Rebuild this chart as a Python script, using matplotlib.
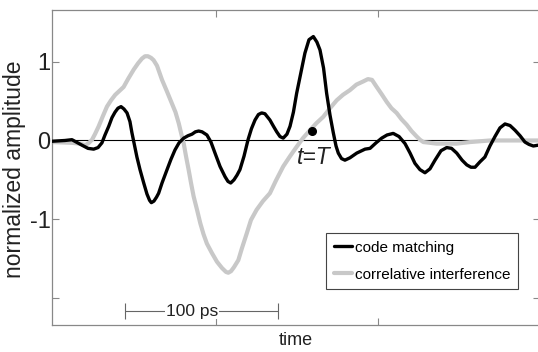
import matplotlib
matplotlib.use('Agg')
import matplotlib.pyplot as plt

plt.rcParams['font.family'] = ['Liberation Sans', 'DejaVu Sans']

# time axis (ps) and normalized amplitudes
t_code = [-1.2, 6.8, 11.1, 17.3, 21.0, 24.5, 27.2, 29.6, 31.5, 33.8, 35.8, 37.7, 39.5, 41.4,
          43.2, 45.1, 46.9, 48.1, 49.7, 51.2, 53.1, 55.4, 57.4, 59.0, 60.1, 61.7, 63.3, 64.6,
          66.7, 69.8, 72.2, 74.7, 77.2, 80.1, 82.7, 85.2, 87.3, 89.3, 91.4, 94.4, 96.9, 99.4,
          102.5, 105.6, 107.4, 109.1, 111.1, 113.0, 114.8, 117.3, 119.8, 121.9, 124.1, 126.2,
          128.2, 130.2, 133.3, 135.5, 137.5, 139.5, 141.5, 143.8, 145.7, 147.8, 149.8, 152.5,
          154.9, 157.4, 160.1, 162.3, 164.2, 166.4, 168.3, 170.4, 172.4, 174.1, 175.5, 177.5,
          179.6, 182.7, 186.9, 192.0, 195.1, 198.8, 202.3, 205.6, 209.4, 213.0, 216.7, 219.8,
          222.8, 225.9, 229.0, 232.1, 235.2, 238.9, 242.4, 245.4, 248.6, 251.9, 254.8, 257.4,
          259.9, 263.0, 266.0, 269.1, 272.2, 275.3, 278.4, 281.5, 284.6, 287.7, 290.7, 293.2,
          295.9, 298.8]
code_matching = [-0.01, 0.00, 0.01, -0.06, -0.10, -0.11, -0.09, -0.03, 0.07, 0.18, 0.29, 0.36,
                 0.41, 0.43, 0.40, 0.35, 0.24, 0.10, -0.06, -0.21, -0.37, -0.54, -0.68, -0.76,
                 -0.79, -0.77, -0.72, -0.67, -0.54, -0.37, -0.24, -0.12, -0.03, 0.03, 0.06, 0.08,
                 0.11, 0.12, 0.11, 0.07, -0.02, -0.16, -0.33, -0.46, -0.52, -0.54, -0.50, -0.44,
                 -0.37, -0.20, 0.01, 0.15, 0.26, 0.33, 0.35, 0.34, 0.26, 0.18, 0.11, 0.05, 0.03,
                 0.08, 0.18, 0.36, 0.60, 0.87, 1.11, 1.28, 1.32, 1.25, 1.15, 0.92, 0.60, 0.32,
                 0.10, -0.07, -0.16, -0.23, -0.25, -0.22, -0.16, -0.11, -0.10, -0.03, 0.03, 0.07,
                 0.09, 0.05, -0.04, -0.16, -0.29, -0.37, -0.41, -0.36, -0.25, -0.13, -0.09, -0.10,
                 -0.16, -0.25, -0.31, -0.34, -0.34, -0.27, -0.21, -0.07, 0.05, 0.16, 0.21, 0.19,
                 0.13, 0.06, -0.02, -0.05, -0.07, -0.06]

t_corr = [-1.2, 11.1, 16.0, 19.3, 21.6, 23.5, 25.3, 27.6, 30.2, 32.7, 35.2, 37.8, 40.4, 43.0,
          45.7, 49.2, 51.9, 54.3, 56.2, 58.0, 59.9, 61.5, 63.6, 66.7, 69.8, 72.8, 75.0, 77.0,
          78.4, 80.1, 81.5, 83.1, 84.6, 86.2, 88.3, 90.3, 92.3, 94.4, 97.5, 100.6, 103.7, 106.2,
          107.6, 109.3, 111.1, 113.8, 116.0, 119.0, 121.6, 125.1, 129.0, 133.3, 137.0, 141.5,
          145.7, 149.8, 153.7, 158.0, 162.0, 166.2, 170.4, 174.5, 178.4, 182.7, 186.7, 190.9,
          193.8, 196.3, 199.2, 202.2, 205.4, 208.3, 211.5, 214.5, 217.7, 220.7, 223.9, 225.9,
          228.0, 232.1, 236.2, 242.0, 248.6, 256.8, 269.1, 287.7, 298.8]
correlative = [-0.02, -0.03, -0.04, -0.06, -0.03, 0.01, 0.08, 0.18, 0.31, 0.43, 0.51, 0.58,
               0.63, 0.68, 0.78, 0.90, 0.98, 1.04, 1.07, 1.07, 1.05, 1.02, 0.95, 0.77, 0.62,
               0.47, 0.36, 0.22, 0.10, -0.04, -0.20, -0.37, -0.54, -0.71, -0.88, -1.05, -1.19,
               -1.31, -1.43, -1.54, -1.62, -1.67, -1.68, -1.66, -1.61, -1.52, -1.37, -1.18,
               -1.01, -0.88, -0.77, -0.67, -0.51, -0.33, -0.20, -0.08, 0.03, 0.13, 0.22, 0.30,
               0.41, 0.51, 0.58, 0.64, 0.71, 0.75, 0.78, 0.77, 0.68, 0.59, 0.49, 0.41, 0.35,
               0.27, 0.20, 0.12, 0.05, 0.01, -0.02, -0.03, -0.04, -0.04, -0.04, -0.02, 0.00,
               0.00, 0.00]

t_mark, a_mark = 159.3, 0.12
bar_start, bar_end, bar_level = 43.8, 138.3, -2.17

fig = plt.figure(figsize=(5.38, 3.52), dpi=100)
ax = fig.add_axes([0.0967, 0.0767, 0.907, 0.895])

ax.axhline(0, color='black', lw=0.8, zorder=1)
ax.plot(t_corr, correlative, color='#c8c8c8', lw=3.0, solid_joinstyle='round',
        solid_capstyle='round', label='correlative interference', zorder=2)
ax.plot(t_code, code_matching, color='black', lw=2.4, solid_joinstyle='round',
        solid_capstyle='round', label='code matching', zorder=3)
ax.plot(t_mark, a_mark, 'o', color='black', ms=5.5, zorder=4)
ax.text(t_mark + 1, a_mark - 0.34, 't=T', style='italic', fontsize=16.5,
        ha='center', va='center', color='#222222')

# 100 ps scale bar
ax.errorbar([(bar_start + bar_end) / 2], [bar_level], xerr=[(bar_end - bar_start) / 2],
            fmt='none', ecolor='#666666', elinewidth=0.8, capsize=6, capthick=0.8)
ax.text(85.2, bar_level, '100 ps', fontsize=12.5, ha='center', va='center', color='#222222',
        bbox=dict(facecolor='white', edgecolor='none', pad=0.5))

ax.set_xlim(-1.2, 300)
ax.set_ylim(-2.344, 1.658)
ax.set_xticks([100, 200])
ax.set_xticklabels([])
ax.set_yticks([1, 0, -1, -2])
ax.set_yticklabels(['1', '0', '-1', ''])
ax.tick_params(direction='in', length=5, width=0.8, color='#888888', top=True, right=True,
               labelsize=17, pad=1, labelcolor='#222222')
for s in ax.spines.values():
    s.set_color('#888888')
    s.set_linewidth(0.9)

ax.set_xlabel('time', fontsize=13, color='#222222', labelpad=4)
fig.text(15 / 538, 1 - 169 / 352, 'normalized amplitude', rotation=90, fontsize=16.5,
         ha='center', va='center', color='#222222')

h, l = ax.get_legend_handles_labels()
leg = ax.legend(h[::-1], l[::-1], loc='upper left', bbox_to_anchor=(326 / 538, 1 - 233 / 352),
                bbox_transform=fig.transFigure, borderaxespad=0, fontsize=11,
                handlelength=1.2, handletextpad=0.2, labelspacing=0.85, borderpad=0.5,
                fancybox=False, framealpha=1)
leg.get_frame().set_edgecolor('#444444')
leg.get_frame().set_linewidth(0.8)

fig.savefig('out.png', dpi=100)
